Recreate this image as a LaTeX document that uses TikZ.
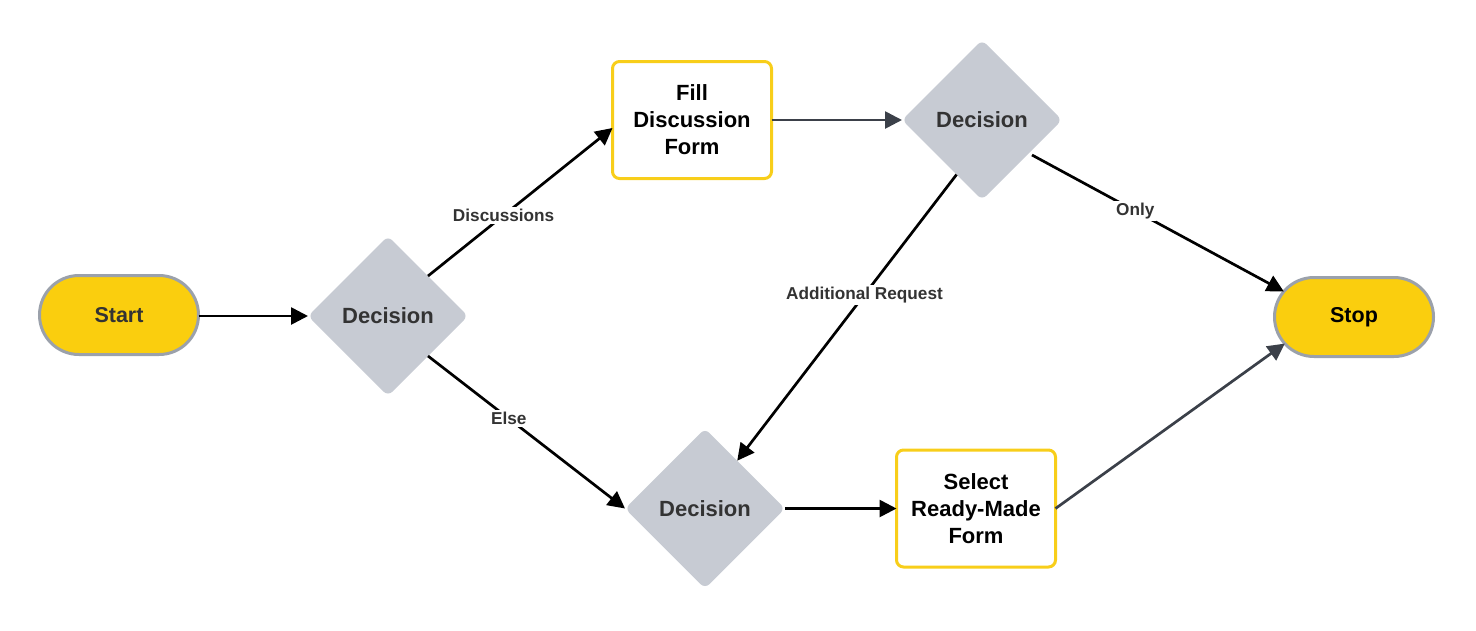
\documentclass[tikz,border=0pt]{standalone}
\usepackage{fontspec}
\setmainfont{Liberation Sans}
\usetikzlibrary{shapes.geometric,shapes.misc,arrows.meta}
\definecolor{termfill}{RGB}{250,206,14}
\definecolor{termline}{RGB}{155,161,171}
\definecolor{decfill}{RGB}{199,203,211}
\definecolor{boxline}{RGB}{248,206,26}
\definecolor{txtdark}{RGB}{51,51,51}
\definecolor{arrdark}{RGB}{59,64,73}
\begin{document}
\begin{tikzpicture}[x=1pt,y=-1pt,
  terminal/.style={rounded rectangle, draw=termline, fill=termfill, line width=3pt,
    minimum width=159pt, minimum height=79pt, inner sep=0pt, outer sep=0pt,
    font=\fontsize{21.5}{25}\selectfont\bfseries},
  decision/.style={diamond, fill=decfill, rounded corners=6pt, minimum width=160pt,
    minimum height=160pt, inner sep=0pt, outer sep=0pt, text=txtdark,
    font=\fontsize{22}{25}\selectfont\bfseries},
  procbox/.style={rectangle, draw=boxline, fill=white, line width=3pt, rounded corners=7pt,
    minimum width=159pt, minimum height=117pt, inner sep=0pt, outer sep=0pt, align=center,
    font=\fontsize{22}{27}\selectfont\bfseries},
  arr/.style={line width=2.7pt, -{Triangle[length=17pt,width=17pt]}},
  lbl/.style={fill=white, text=txtdark, inner sep=2pt, font=\fontsize{17.2}{20}\selectfont\bfseries}
]
\useasboundingbox (0,0) rectangle (1476,630);
\node[terminal, text=txtdark] (start) at (119,315) {Start};
\node[decision] (d1) at (388,316) {Decision};
\node[procbox] (fill) at (692,120) {Fill\\Discussion\\Form};
\node[decision] (d2) at (982,120) {Decision};
\node[terminal, text=black] (stop) at (1354,317) {Stop};
\node[decision] (d3) at (705,508.5) {Decision};
\node[procbox] (sel) at (976,508.5) {Select\\Ready-Made\\Form};

\draw[arr] (start.east |- d1.west) -- (d1.west);
\draw[arr] (d1.north east) -- node[lbl, pos=0.41] (l1) {Discussions} ([yshift=-8pt]fill.west);
\draw[arr] (d1.south east) -- node[lbl, pos=0.41] (l2) {Else} (d3.west);
\draw[arr, draw=arrdark] (fill.east) -- (d2.west);
\draw[arr] ([shift={(10,-5)}]d2.south east) -- node[lbl, pos=0.41] (l3) {Only} (stop.160);
\draw[arr] (d2.245) -- node[lbl, pos=0.42] (l4) {Additional Request} (d3.56);
\draw[arr] (d3.east) -- (sel.west);
\draw[arr, draw=arrdark] (sel.east) -- (stop.201);
\end{tikzpicture}
\end{document}
